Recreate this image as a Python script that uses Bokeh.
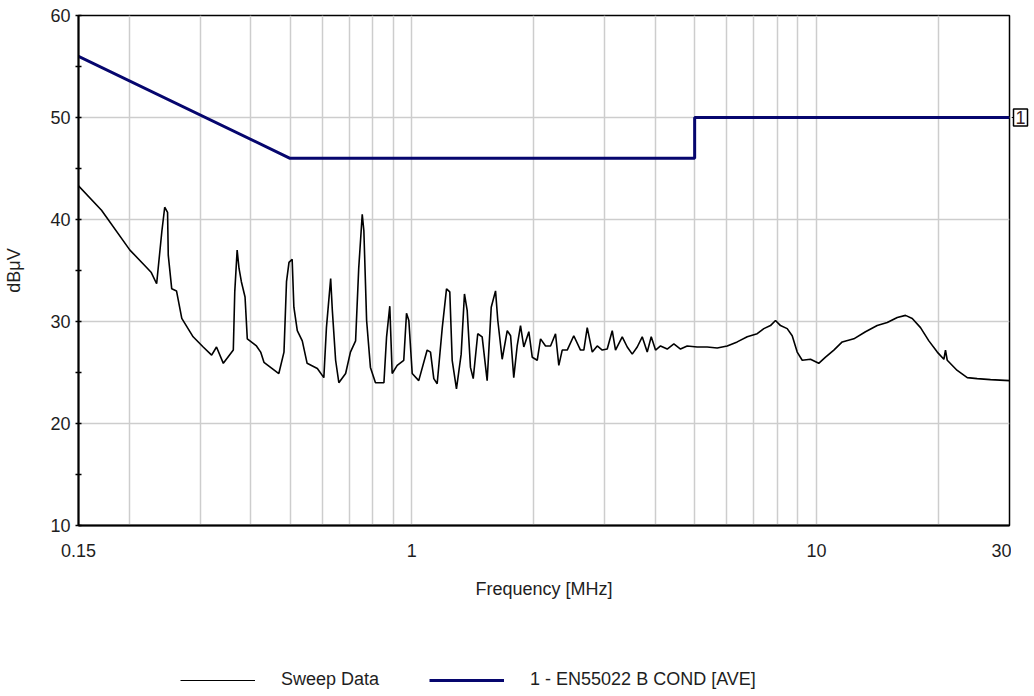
from bokeh.plotting import figure
from bokeh.layouts import column, row
from bokeh.models import (FixedTicker, Legend, LegendItem, Range1d, Label,
                          CustomJSTickFormatter)
from bokeh.embed import file_html
from bokeh.resources import INLINE

# ---- data ----
sweep_freq_mhz = [
    0.150, 0.171, 0.201, 0.221, 0.227, 0.234, 0.241, 0.245, 0.249, 0.250,
    0.255, 0.262, 0.270, 0.288, 0.305, 0.320, 0.329, 0.342, 0.362, 0.365,
    0.370, 0.374, 0.379, 0.387, 0.392, 0.413, 0.423, 0.431, 0.469, 0.483,
    0.490, 0.497, 0.506, 0.511, 0.521, 0.536, 0.551, 0.584, 0.606, 0.615,
    0.630, 0.636, 0.648, 0.660, 0.686, 0.705, 0.726, 0.739, 0.754, 0.761,
    0.773, 0.790, 0.813, 0.853, 0.866, 0.882, 0.894, 0.920, 0.955, 0.970,
    0.983, 1.002, 1.040, 1.091, 1.112, 1.133, 1.155, 1.189, 1.218, 1.241,
    1.258, 1.289, 1.324, 1.349, 1.370, 1.396, 1.418, 1.455, 1.492, 1.535,
    1.571, 1.610, 1.631, 1.672, 1.721, 1.754, 1.786, 1.821, 1.856, 1.891,
    1.946, 1.984, 2.041, 2.080, 2.140, 2.202, 2.265, 2.308, 2.353, 2.421,
    2.513, 2.611, 2.661, 2.713, 2.792, 2.872, 2.955, 3.040, 3.128, 3.187,
    3.311, 3.407, 3.505, 3.606, 3.710, 3.817, 3.905, 4.002, 4.118, 4.277,
    4.442, 4.613, 4.792, 5.072, 5.370, 5.684, 6.018, 6.370, 6.744, 7.138,
    7.412, 7.698, 7.921, 8.149, 8.466, 8.711, 8.962, 9.222, 9.667, 10.13,
    10.53, 11.04, 11.58, 12.37, 13.22, 14.13, 14.96, 15.84, 16.60, 17.25,
    18.08, 18.96, 19.89, 20.65, 20.84, 21.05, 22.28, 23.59, 24.96, 26.93,
    30.0,
]
sweep_dbuv = [
    43.3, 40.9, 37.0, 35.3, 34.8, 33.7, 38.8, 41.2, 40.7, 36.5,
    33.2, 33.0, 30.3, 28.5, 27.5, 26.7, 27.5, 25.9, 27.2, 32.9,
    37.0, 35.2, 33.9, 32.4, 28.3, 27.6, 27.0, 26.0, 24.9, 27.0,
    33.9, 35.8, 36.1, 31.4, 29.1, 28.1, 25.9, 25.4, 24.5, 29.4,
    34.2, 31.1, 26.2, 24.0, 24.9, 27.0, 28.1, 35.2, 40.5, 38.9,
    30.1, 25.5, 24.0, 24.0, 28.5, 31.5, 24.9, 25.7, 26.2, 30.8,
    30.1, 24.9, 24.2, 27.2, 27.0, 24.4, 23.9, 29.4, 33.2, 32.9,
    26.2, 23.4, 26.8, 32.7, 31.1, 25.5, 24.4, 28.8, 28.5, 24.2,
    31.4, 33.0, 30.1, 26.3, 29.1, 28.6, 24.5, 27.6, 29.6, 27.5,
    29.0, 26.5, 26.2, 28.3, 27.6, 27.6, 28.8, 25.7, 27.2, 27.2,
    28.6, 27.2, 27.2, 29.4, 27.0, 27.6, 27.2, 27.3, 29.1, 27.2,
    28.5, 27.5, 26.8, 27.5, 28.5, 27.0, 28.5, 27.2, 27.6, 27.3,
    27.8, 27.3, 27.6, 27.5, 27.5, 27.4, 27.6, 28.0, 28.5, 28.8,
    29.3, 29.6, 30.1, 29.6, 29.3, 28.6, 27.0, 26.2, 26.3, 25.9,
    26.5, 27.2, 28.0, 28.3, 29.0, 29.6, 29.9, 30.4, 30.6, 30.3,
    29.4, 28.1, 27.0, 26.3, 27.2, 26.2, 25.2, 24.5, 24.4, 24.3,
    24.2,
]
limit_freq_mhz = [0.15, 0.5, 5.0, 5.0, 30.0]
limit_dbuv = [56.0, 46.0, 46.0, 50.0, 50.0]
limit_tag_text = "1"
limit_tag_level = 50.0

x_tick_values = [0.15, 1, 10, 30]
x_grid_values = [0.2, 0.3, 0.4, 0.5, 0.6, 0.7, 0.8, 0.9,
                 2, 3, 4, 5, 6, 7, 8, 9, 20]
y_tick_values = [10, 20, 30, 40, 50, 60]
y_minor_values = [15, 25, 35, 45, 55]

FONT = "Liberation Sans"
TXT = "#1e1e1e"
GRID = "#cdcdcd"
NAVY = "#06066e"
SWEEP_W = 1.6
LIMIT_W = 3

TOP = 15
BOTTOM = 85
MAIN_H = 610

# ---------------- main chart ----------------
p = figure(width=1011, height=MAIN_H, x_axis_type="log",
           x_range=Range1d(0.15, 30), y_range=Range1d(10, 60),
           output_backend="svg", toolbar_location=None,
           min_border_left=78, min_border_right=2, min_border_top=TOP,
           min_border_bottom=BOTTOM)

p.background_fill_color = "white"
p.border_fill_color = "white"
p.outline_line_color = "black"
p.outline_line_width = 1.5

p.xgrid.ticker = FixedTicker(ticks=x_tick_values, minor_ticks=x_grid_values)
p.xgrid.grid_line_color = GRID
p.xgrid.grid_line_width = 1.5
p.xgrid.minor_grid_line_color = GRID
p.xgrid.minor_grid_line_width = 1.5
p.ygrid.ticker = FixedTicker(ticks=y_tick_values, minor_ticks=y_minor_values)
p.ygrid.grid_line_color = GRID
p.ygrid.grid_line_width = 1.5

p.xaxis.ticker = FixedTicker(ticks=x_tick_values, minor_ticks=x_grid_values)
p.xaxis.formatter = CustomJSTickFormatter(code="return String(tick);")
p.xaxis.major_tick_line_color = None
p.xaxis.minor_tick_line_color = None
p.xaxis.major_tick_out = 0
p.xaxis.minor_tick_out = 0
p.xaxis.axis_line_width = 2
p.xaxis.axis_line_color = "black"
p.xaxis.major_label_standoff = 18
p.xaxis.axis_label = "Frequency [MHz]"
p.xaxis.axis_label_standoff = 19

p.yaxis.ticker = FixedTicker(ticks=y_tick_values, minor_ticks=y_minor_values)
p.yaxis.major_tick_in = 3
p.yaxis.major_tick_out = 3
p.yaxis.minor_tick_in = 3
p.yaxis.minor_tick_out = 3
p.yaxis.major_tick_line_width = 1.5
p.yaxis.minor_tick_line_width = 1.5
p.yaxis.axis_line_width = 2
p.yaxis.axis_line_color = "black"
p.yaxis.major_label_standoff = 5
p.yaxis.axis_label = "dB\u03bcV"
p.yaxis.axis_label_standoff = 23

for ax in (p.xaxis, p.yaxis):
    ax.major_label_text_font = FONT
    ax.major_label_text_font_size = "18px"
    ax.major_label_text_color = TXT
    ax.axis_label_text_font = FONT
    ax.axis_label_text_font_size = "18px"
    ax.axis_label_text_font_style = "normal"
    ax.axis_label_text_color = TXT

p.line(limit_freq_mhz, limit_dbuv, line_color=NAVY, line_width=LIMIT_W)
p.line(sweep_freq_mhz, sweep_dbuv, line_color="black", line_width=SWEEP_W)

# ---------------- boxed limit tag to the right ----------------
tag = figure(width=21, height=MAIN_H, x_range=Range1d(0, 1),
             y_range=Range1d(10, 60), output_backend="svg",
             toolbar_location=None, x_axis_location=None,
             y_axis_location=None, min_border_left=0, min_border_right=0,
             min_border_top=TOP, min_border_bottom=BOTTOM)
tag.outline_line_color = None
tag.grid.visible = False
tag.background_fill_color = "white"
tag.border_fill_color = "white"
tag.segment(x0=[0], y0=[limit_tag_level], x1=[0.12], y1=[limit_tag_level],
            line_color="black", line_width=1.2)
tag.add_layout(Label(x=0, y=limit_tag_level, x_offset=2, text=limit_tag_text,
                     text_align="left", text_baseline="middle",
                     text_font=FONT, text_font_size="18px",
                     text_color="#3a1e1e", border_line_color="black",
                     border_line_width=1.5, background_fill_color="white",
                     padding=2))

# ---------------- legend strip below ----------------
# the series are drawn here outside the visible range, only their legend
# samples show
leg = figure(width=1032, height=84, x_range=Range1d(0, 1),
             y_range=Range1d(0, 1), output_backend="svg",
             toolbar_location=None, x_axis_location=None,
             y_axis_location=None, min_border_left=0, min_border_right=0,
             min_border_top=0, min_border_bottom=0)
leg.outline_line_color = None
leg.grid.visible = False
leg.background_fill_color = "white"
leg.border_fill_color = "white"
k_sweep = leg.line(sweep_freq_mhz, sweep_dbuv, line_color="black", line_width=1.2)
k_lim = leg.line(limit_freq_mhz, limit_dbuv, line_color=NAVY, line_width=LIMIT_W)
legend = Legend(items=[LegendItem(label="Sweep Data", renderers=[k_sweep]),
                       LegendItem(label="1 - EN55022 B COND [AVE]", renderers=[k_lim])],
                orientation="horizontal", location=(180, 4),
                glyph_width=75, glyph_height=20, label_standoff=26, spacing=50,
                padding=0, margin=0,
                label_text_font=FONT, label_text_font_size="18px",
                label_text_color=TXT,
                background_fill_alpha=0, border_line_color=None)
leg.add_layout(legend, "center")

layout = column(row(p, tag), leg)
open("out.html", "w").write(file_html(layout, INLINE))
